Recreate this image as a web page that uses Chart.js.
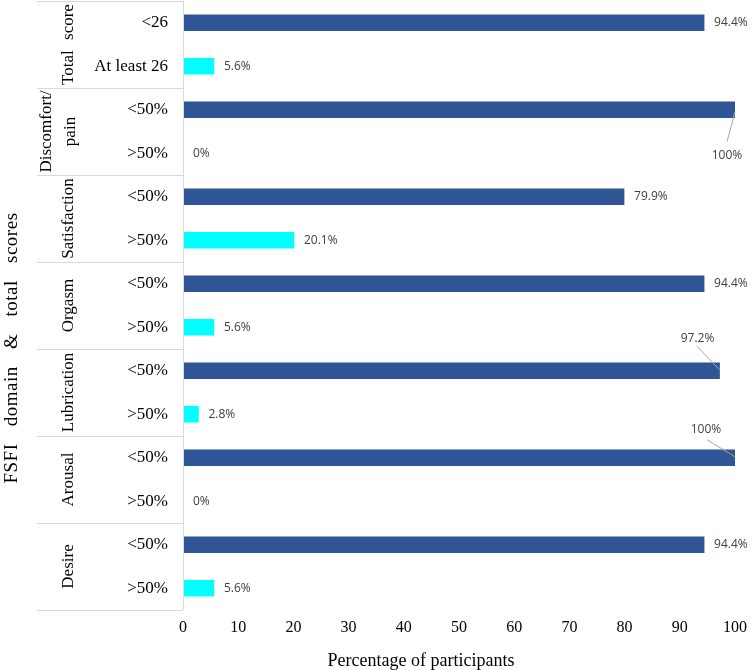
<!DOCTYPE html>
<html><head><meta charset="utf-8">
<script src="https://cdn.jsdelivr.net/npm/chart.js@4/dist/chart.umd.min.js"></script>
<style>html,body{margin:0;padding:0;background:#fff}</style>
</head><body>
<canvas id="c" width="752" height="670"></canvas>
<script>
// ---- data ----
const groupLabels = ['Total score', 'Discomfort/\npain', 'Satisfaction', 'Orgasm', 'Lubrication', 'Arousal', 'Desire'];
const categories = ['<26', 'At least 26', '<50%', '>50%', '<50%', '>50%', '<50%', '>50%', '<50%', '>50%', '<50%', '>50%', '<50%', '>50%'];
const lowValues = [94.4, 100, 79.9, 94.4, 97.2, 100, 94.4];   // first row of each group
const highValues = [5.6, 0, 20.1, 5.6, 2.8, 0, 5.6];           // second row of each group
const xTicks = [0, 10, 20, 30, 40, 50, 60, 70, 80, 90, 100];
const xTitle = 'Percentage of participants';
const yTitle = 'FSFI domain & total scores';

// ---- styles ----
const darkColor = '#2F5597';
const cyanColor = '#00FFFF';
const lineColor = '#D9D9D9';
const serif = "'Liberation Serif', 'Times New Roman', serif";
const labelFont = "12px 'Open Sans', 'Liberation Sans', sans-serif";
// leader-line callouts: offsets relative to bar end
const callouts = {
  2: {label: [-8, 46], line: [[0, 2], [-8, 32]]},
  8: {label: [-22, -32], line: [[-23, -25], [0, -1]]},
  10: {label: [-29, -28], line: [[-28, -18], [0, -1]]}
};

const lowData = categories.map((_, i) => i % 2 === 0 ? lowValues[i / 2] : null);
const highData = categories.map((_, i) => i % 2 === 1 ? highValues[(i - 1) / 2] : null);

const tablePlugin = {
  id: 'table',
  afterDraw(chart) {
    const ctx = chart.ctx, ca = chart.chartArea, ys = chart.scales.y;
    const half = (ys.getPixelForValue(1) - ys.getPixelForValue(0)) / 2;
    ctx.save();
    ctx.strokeStyle = lineColor; ctx.lineWidth = 1;
    ctx.beginPath();
    ctx.moveTo(Math.round(ca.left) + 0.5, ca.top);
    ctx.lineTo(Math.round(ca.left) + 0.5, ca.bottom);
    for (let g = 0; g <= groupLabels.length; g++) {
      const y = Math.round(ys.getPixelForValue(2 * g) - half) + 0.5;
      ctx.moveTo(37, y); ctx.lineTo(ca.left, y);
    }
    ctx.stroke();
    // group labels
    ctx.fillStyle = '#000';
    ctx.font = '17px ' + serif;
    ctx.textAlign = 'center'; ctx.textBaseline = 'middle';
    groupLabels.forEach((lab, g) => {
      const yc = (ys.getPixelForValue(2 * g) + ys.getPixelForValue(2 * g + 1)) / 2;
      const lines = lab.split('\n');
      lines.forEach((ln, k) => {
        const x = lines.length === 1 ? 69 : 71 - (lines.length - 1 - k) * 24;
        ctx.save();
        ctx.translate(x, yc);
        ctx.rotate(-Math.PI / 2);
        if (g === 0 && 'wordSpacing' in ctx) ctx.wordSpacing = '6px';
        ctx.fillText(ln, 0, 0);
        ctx.restore();
      });
    });
    // y title
    ctx.save();
    ctx.font = '19px ' + serif;
    ctx.translate(12, 348);
    ctx.rotate(-Math.PI / 2);
    if ('wordSpacing' in ctx) ctx.wordSpacing = '12px';
    if ('letterSpacing' in ctx) ctx.letterSpacing = '0.5px';
    ctx.fillText(yTitle, 0, 0);
    ctx.restore();
    // x title
    ctx.font = '18px ' + serif;
    ctx.fillText(xTitle, 421, 661);
    // data labels
    ctx.font = labelFont;
    ctx.fillStyle = '#404040';
    chart.data.datasets.forEach((ds, di) => {
      const meta = chart.getDatasetMeta(di);
      meta.data.forEach((el, i) => {
        const v = ds.data[i];
        if (v === null || v === undefined) return;
        const txt = v + '%';
        const c = callouts[i];
        if (c) {
          ctx.strokeStyle = '#A6A6A6'; ctx.lineWidth = 1;
          ctx.beginPath();
          ctx.moveTo(el.x + c.line[0][0], el.y + c.line[0][1]);
          ctx.lineTo(el.x + c.line[1][0], el.y + c.line[1][1]);
          ctx.stroke();
          ctx.textAlign = 'center';
          ctx.fillText(txt, el.x + c.label[0], el.y + c.label[1]);
        } else {
          ctx.textAlign = 'left';
          ctx.fillText(txt, el.x + 10, el.y);
        }
      });
    });
    ctx.restore();
  }
};

new Chart(document.getElementById('c'), {
  type: 'bar',
  data: {
    labels: categories,
    datasets: [
      {label: 'low', data: lowData, backgroundColor: darkColor},
      {label: 'high', data: highData, backgroundColor: cyanColor}
    ]
  },
  options: {
    responsive: false,
    animation: false,
    devicePixelRatio: 1,
    indexAxis: 'y',
    layout: {padding: {top: 1, right: 17, bottom: 0, left: 0}},
    datasets: {bar: {grouped: false, barThickness: 16}},
    plugins: {legend: {display: false}, tooltip: {enabled: false}},
    scales: {
      x: {
        min: 0, max: 100,
        afterBuildTicks: s => { s.ticks = xTicks.map(v => ({value: v})); },
        ticks: {color: '#000', font: {family: serif, size: 16}, padding: 8, maxRotation: 0},
        grid: {display: false, drawTicks: false},
        border: {display: false},
        afterFit: s => { s.height = 60; s.paddingLeft = 0; s.paddingRight = 0; }
      },
      y: {
        ticks: {color: '#000', font: {family: serif, size: 17}, padding: 15, autoSkip: false},
        grid: {display: false, drawTicks: false},
        border: {display: false},
        afterFit: s => { s.width = 183; s.paddingTop = 0; s.paddingBottom = 0; }
      }
    }
  },
  plugins: [tablePlugin]
});
</script>
</body></html>
